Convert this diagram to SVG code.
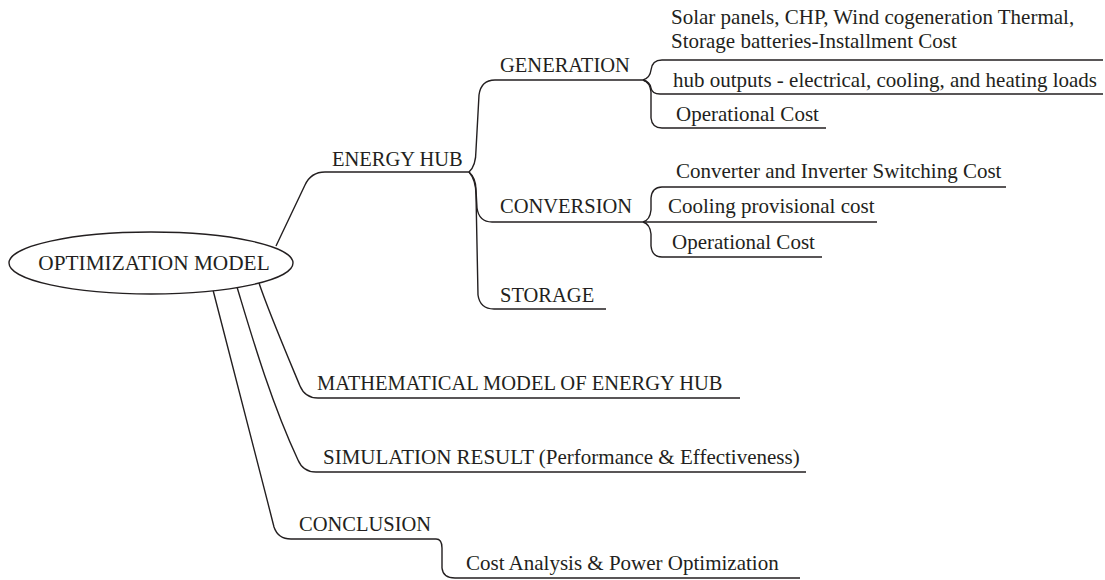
<svg xmlns="http://www.w3.org/2000/svg" width="1105" height="580" viewBox="0 0 1105 580">
<style>
text{font-family:"Liberation Serif","Times New Roman",serif;font-size:21px;fill:#231f20}
text.cap{font-size:20.5px}
.c{fill:none;stroke:#231f20;stroke-width:1.4}
</style>
<rect width="1105" height="580" fill="#fff"/>
<g id="connectors">
<path class="c" d="M276,246 L305,185 Q311,172 325,172 L470,172"/>
<path class="c" d="M469,172 Q476,166 476,150 L479,95 Q481,80 495,80 L643,80"/>
<path class="c" d="M469,172 Q476,178 476,190 L477,208 Q479,222 492,222 L643,222"/>
<path class="c" d="M469,172 Q476,180 476,195 L478,295 Q480,309 494,309 L606,309"/>
<path class="c" d="M643,80 Q650,78 651,70 Q652,60 662,60 L1103,60"/>
<path class="c" d="M643,80 Q650,82 651,88 Q652,94 660,94 L1103,94"/>
<path class="c" d="M643,80 Q650,82 651,92 L651,118 Q652,128 662,128 L826,128"/>
<path class="c" d="M643,222 Q650,220 651,210 L651,198 Q652,187 662,187 L1006,187"/>
<path class="c" d="M643,222 L877,222"/>
<path class="c" d="M643,222 Q650,224 651,234 L651,246 Q652,257 662,257 L822,257"/>
<path class="c" d="M259,283 C268,310 285,350 300,386 Q305,398 318,398 L740,398"/>
<path class="c" d="M237,287 C250,330 270,400 298,460 Q303,472 316,472 L806,472"/>
<path class="c" d="M213,290 C228,350 252,440 274,527 Q278,539 291,539 L436,539 Q442,539 442,548 L442,568 Q443,578 455,578 L800,578"/>
</g>
<g id="optimization-model">
<ellipse cx="151" cy="263" rx="142" ry="31" fill="#fff" stroke="#231f20" stroke-width="1.4"/>
<text x="154" y="270" text-anchor="middle" style="font-size:21.3px">OPTIMIZATION MODEL</text>
</g>
<g id="energy-hub"><text class="cap" x="332" y="166">ENERGY HUB</text></g>
<g id="generation"><text class="cap" x="500" y="72">GENERATION</text></g>
<g id="gen-installment"><text x="671" y="24">Solar panels, CHP, Wind cogeneration Thermal,</text><text x="671" y="48">Storage batteries-Installment Cost</text></g>
<g id="gen-hub-outputs"><text x="673" y="87">hub outputs - electrical, cooling, and heating loads</text></g>
<g id="gen-operational"><text x="676" y="121">Operational Cost</text></g>
<g id="conversion"><text class="cap" x="500" y="213">CONVERSION</text></g>
<g id="conv-switching"><text x="676" y="178">Converter and Inverter Switching Cost</text></g>
<g id="conv-cooling"><text x="668" y="213">Cooling provisional cost</text></g>
<g id="conv-operational"><text x="672" y="249">Operational Cost</text></g>
<g id="storage"><text class="cap" x="500" y="302">STORAGE</text></g>
<g id="mathematical-model"><text class="cap" x="317" y="390">MATHEMATICAL MODEL OF ENERGY HUB</text></g>
<g id="simulation-result"><text x="323" y="464">SIMULATION RESULT (Performance &amp; Effectiveness)</text></g>
<g id="conclusion"><text class="cap" x="299" y="531">CONCLUSION</text></g>
<g id="cost-analysis"><text x="466" y="570">Cost Analysis &amp; Power Optimization</text></g>
</svg>
